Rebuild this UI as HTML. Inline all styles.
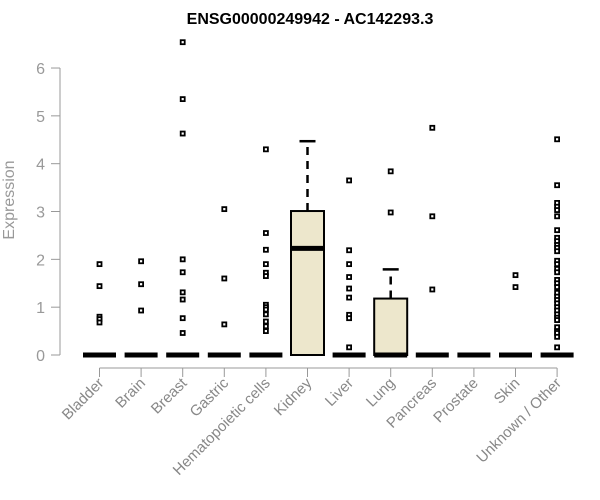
<!DOCTYPE html>
<html><head><meta charset="utf-8"><style>
body{margin:0;background:#fff}
svg{display:block;font-family:"Liberation Sans",Arial,sans-serif}
</style></head><body>
<svg id="chart" width="600" height="500" viewBox="0 0 600 500">
<text x="310" y="24" text-anchor="middle" font-weight="bold" font-size="16" fill="#000">ENSG00000249942 - AC142293.3</text>
<text transform="translate(14,200) rotate(-90)" text-anchor="middle" font-size="16" fill="#999">Expression</text>
<g id="g"></g>
</svg>
<script>
const categories=["Bladder","Brain","Breast","Gastric","Hematopoietic cells","Kidney","Liver","Lung","Pancreas","Prostate","Skin","Unknown / Other"];
const q1=[0,0,0,0,0,0,0,0,0,0,0,0];
const medians=[0,0,0,0,0,2.23,0,0,0,0,0,0];
const q3=[0,0,0,0,0,3.01,0,1.18,0,0,0,0];
const whiskerLow=[0,0,0,0,0,0,0,0,0,0,0,0];
const whiskerHigh=[0,0,0,0,0,4.47,0,1.79,0,0,0,0];
const outliers=[
[1.9,1.44,0.8,0.75,0.68],
[1.96,1.48,0.93],
[6.54,5.35,4.63,2.0,1.73,1.31,1.16,0.77,0.46],
[3.05,1.6,0.64],
[4.3,2.55,2.2,1.9,1.72,1.65,1.05,1.0,0.95,0.85,0.7,0.6,0.5],
[],
[3.65,2.19,1.9,1.63,1.39,1.2,0.84,0.77,0.16],
[3.84,2.98],
[4.75,2.9,1.37],
[],
[1.67,1.42],
[4.51,3.55,3.18,3.1,3.03,2.9,2.61,2.45,2.38,2.3,2.24,2.17,1.97,1.9,1.8,1.73,1.57,1.5,1.42,1.3,1.22,1.15,1.08,1.0,0.93,0.85,0.78,0.73,0.58,0.5,0.46,0.38,0.16]
];
const yTicks=[0,1,2,3,4,5,6];
const NS="http://www.w3.org/2000/svg";
const g=document.getElementById('g');
const y=v=>355-v*47.83;
const x=i=>99.5+i*41.6;
function mk(t,a){const e=document.createElementNS(NS,t);for(const k in a)e.setAttribute(k,a[k]);g.appendChild(e);return e;}
let e;
e=mk('line',{x1:60,y1:y(0),x2:60,y2:y(6),stroke:'#999','stroke-width':1});


yTicks.forEach(t=>{
 let l=mk('line',{x1:51,y1:y(t),x2:60,y2:y(t),stroke:'#999'});
 
 
 let tx=mk('text',{x:45,y:y(t)+6,'text-anchor':'end','font-size':16,fill:'#999'});
 tx.textContent=t;
 
 
});
e=mk('line',{x1:x(0),y1:368,x2:x(11),y2:368,stroke:'#999'});


categories.forEach((c,i)=>{
 const cx=x(i),w=33;
 let l=mk('line',{x1:cx,y1:368,x2:cx,y2:377,stroke:'#999'});
 
 
 let tx=mk('text',{x:0,y:0,transform:`translate(${cx+5},${384}) rotate(-45)`,'text-anchor':'end','font-size':15,fill:'#888'});
 tx.textContent=c;
 
 
 if(whiskerHigh[i]>q3[i]){
  let wl=mk('line',{x1:cx,y1:y(q3[i]),x2:cx,y2:y(whiskerHigh[i]),stroke:'#000','stroke-width':2.5,'stroke-dasharray':'8,6'});
  
  
  let cap=mk('line',{x1:cx-8,y1:y(whiskerHigh[i]),x2:cx+8,y2:y(whiskerHigh[i]),stroke:'#000','stroke-width':2.5});
  
  
 }
 if(q3[i]>q1[i]){
  let b=mk('rect',{x:cx-w/2,y:y(q3[i]),width:w,height:y(q1[i])-y(q3[i]),fill:'#ede7cc',stroke:'#000','stroke-width':2});
  
  
 }
 let m=mk('line',{x1:cx-w/2,y1:y(medians[i]),x2:cx+w/2,y2:y(medians[i]),stroke:'#000','stroke-width':5});
 
 
 outliers[i].forEach(v=>{
  let p=mk('rect',{x:cx-2,y:y(v)-2,width:4,height:4,fill:'#fff',stroke:'#000','stroke-width':1.8});
  
  
 });
});
</script>
</body></html>
